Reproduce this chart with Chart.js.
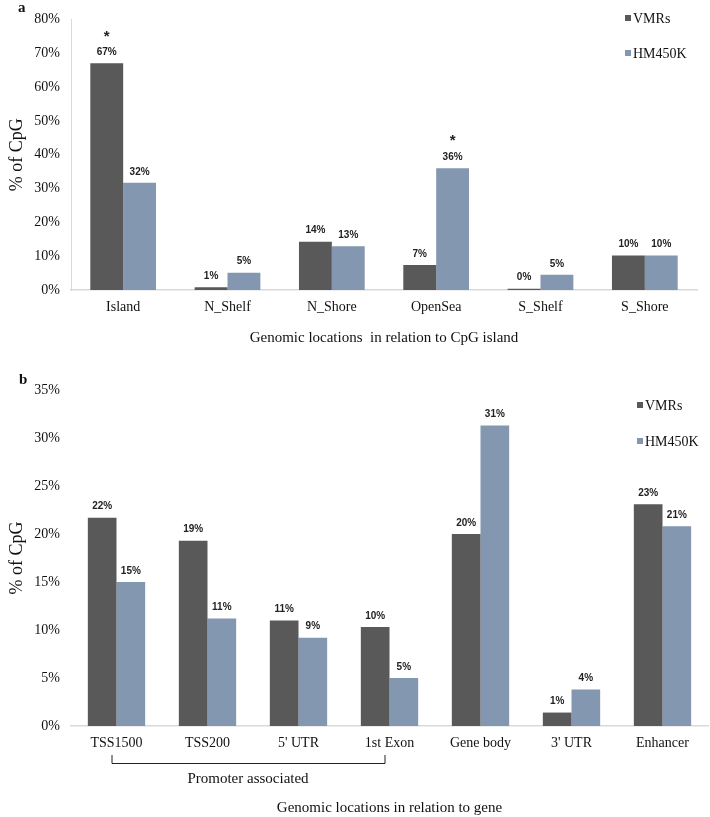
<!DOCTYPE html>
<html>
<head>
<meta charset="utf-8">
<script src="https://cdn.jsdelivr.net/npm/chart.js@4.4.1/dist/chart.umd.min.js"></script>
<style>
  html, body { margin: 0; padding: 0; background: #fff; }
  #wrap { position: relative; width: 710px; height: 817px; }
  #chartA { position: absolute; left: 0; top: 0; }
  #chartB { position: absolute; left: 0; top: 370px; }
</style>
</head>
<body>
<div id="wrap">
  <canvas id="chartA" width="710" height="362"></canvas>
  <canvas id="chartB" width="710" height="447"></canvas>
</div>
<script>
// Panel a: CpG island context
const islandLabels = ["Island", "N_Shelf", "N_Shore", "OpenSea", "S_Shelf", "S_Shore"];
const islandVMRs = [67.0, 0.8, 14.3, 7.4, 0.4, 10.2];
const islandHM450K = [31.7, 5.1, 12.9, 36.0, 4.5, 10.2];
const islandTicks = [0, 10, 20, 30, 40, 50, 60, 70, 80];
const islandStars = [[0, 0], [1, 3]]; // [dataset, category]

// Panel b: gene context
const geneLabels = ["TSS1500", "TSS200", "5' UTR", "1st Exon", "Gene body", "3' UTR", "Enhancer"];
const geneVMRs = [21.7, 19.3, 11.0, 10.3, 20.0, 1.4, 23.1];
const geneHM450K = [15.0, 11.2, 9.2, 5.0, 31.3, 3.8, 20.8];
const geneTicks = [0, 5, 10, 15, 20, 25, 30, 35];

const seriesNames = ["VMRs", "HM450K"];
const seriesColors = ["#595959", "#8497b0"];

const serif = "'Liberation Serif', 'Times New Roman', serif";
const narrow = "'Liberation Sans Narrow', 'Liberation Sans', sans-serif";

// Draws labels, legend, axis titles and extras on top of each chart
function overlayPlugin(opts) {
  return {
    id: "overlay",
    afterDatasetsDraw(chart) {
      const ctx = chart.ctx;
      const area = chart.chartArea;
      ctx.save();

      // value labels above bars
      ctx.fillStyle = "#222";
      ctx.font = "bold 10px " + narrow;
      ctx.textAlign = "center";
      ctx.textBaseline = "middle";
      chart.data.datasets.forEach((ds, i) => {
        chart.getDatasetMeta(i).data.forEach((bar, j) => {
          ctx.fillText(Math.round(ds.data[j]) + "%", bar.x, bar.y - 11);
        });
      });

      // significance stars
      ctx.font = "bold 15px " + narrow;
      (opts.stars || []).forEach(([i, j]) => {
        const bar = chart.getDatasetMeta(i).data[j];
        ctx.fillText("*", bar.x, bar.y - 27);
      });

      // legend
      ctx.font = "14px " + serif;
      ctx.textAlign = "left";
      chart.data.datasets.forEach((ds, i) => {
        const y = opts.legendY[i];
        ctx.fillStyle = ds.backgroundColor;
        ctx.fillRect(opts.legendX, y - 3, 6, 6);
        ctx.fillStyle = "#111";
        ctx.fillText(ds.label, opts.legendX + 8, y + 1);
      });

      // panel letter
      ctx.font = "bold 15px " + serif;
      ctx.fillText(opts.letter, opts.letterPos[0], opts.letterPos[1]);

      // axis titles
      ctx.textAlign = "center";
      ctx.font = "15px " + serif;
      ctx.fillText(opts.xTitle, (area.left + area.right) / 2, opts.xTitleY);
      ctx.save();
      ctx.translate(17, (area.top + area.bottom) / 2);
      ctx.rotate(-Math.PI / 2);
      ctx.font = "18px " + serif;
      ctx.fillText("% of CpG", 0, 0);
      ctx.restore();

      // bracket under a group of categories
      if (opts.bracket) {
        const xs = chart.scales.x;
        const x1 = xs.getPixelForValue(opts.bracket.from) - 5;
        const x2 = xs.getPixelForValue(opts.bracket.to) - 5;
        const yb = opts.bracket.y;
        ctx.strokeStyle = "#222";
        ctx.lineWidth = 1;
        ctx.beginPath();
        ctx.moveTo(x1 + 0.5, yb - 8);
        ctx.lineTo(x1 + 0.5, yb + 0.5);
        ctx.lineTo(x2 + 0.5, yb + 0.5);
        ctx.lineTo(x2 + 0.5, yb - 8);
        ctx.stroke();
        ctx.font = "15px " + serif;
        ctx.fillStyle = "#111";
        ctx.fillText(opts.bracket.text, (x1 + x2) / 2, yb + 16);
      }
      ctx.restore();
    },
  };
}

function makeChart(canvasId, labels, vmrs, hm, ticks, cfg) {
  return new Chart(document.getElementById(canvasId), {
    type: "bar",
    data: {
      labels: labels,
      datasets: [
        { label: seriesNames[0], data: vmrs, backgroundColor: seriesColors[0] },
        { label: seriesNames[1], data: hm, backgroundColor: seriesColors[1] },
      ],
    },
    options: {
      responsive: false,
      animation: false,
      devicePixelRatio: 1,
      layout: { padding: { top: cfg.padTop, right: cfg.padRight, left: 0, bottom: 0 } },
      datasets: { bar: { barPercentage: 1.0, categoryPercentage: 0.63 } },
      plugins: { legend: { display: false }, tooltip: { enabled: false } },
      scales: {
        x: {
          grid: { display: false, drawTicks: false },
          border: { display: true, color: "#d9d9d9", width: 1.5 },
          ticks: { color: "#111", padding: 9, font: { family: serif, size: 14 } },
          afterFit: (s) => { s.height = cfg.xHeight; },
        },
        y: {
          min: 0,
          max: ticks[ticks.length - 1],
          afterBuildTicks: (s) => { s.ticks = ticks.map((v) => ({ value: v })); },
          grid: { display: false, drawTicks: false },
          border: { display: cfg.yLine, color: "#d9d9d9", width: 1 },
          ticks: {
            color: "#111",
            padding: 11,
            font: { family: serif, size: 14 },
            callback: (v) => v + "%",
          },
          afterFit: (s) => { s.width = 71; },
        },
      },
    },
    plugins: [overlayPlugin(cfg)],
  });
}

makeChart("chartA", islandLabels, islandVMRs, islandHM450K, islandTicks, {
  padTop: 15, padRight: 13, xHeight: 72, yLine: true,
  stars: islandStars,
  legendX: 625, legendY: [18, 53],
  letter: "a", letterPos: [18, 8],
  xTitle: "Genomic locations  in relation to CpG island", xTitleY: 338,
});

makeChart("chartB", geneLabels, geneVMRs, geneHM450K, geneTicks, {
  padTop: 20, padRight: 2, xHeight: 91, yLine: false,
  legendX: 637, legendY: [35, 71],
  letter: "b", letterPos: [19, 10],
  xTitle: "Genomic locations in relation to gene", xTitleY: 438,
  bracket: { from: 0, to: 3, y: 393, text: "Promoter associated" },
});
</script>
</body>
</html>
